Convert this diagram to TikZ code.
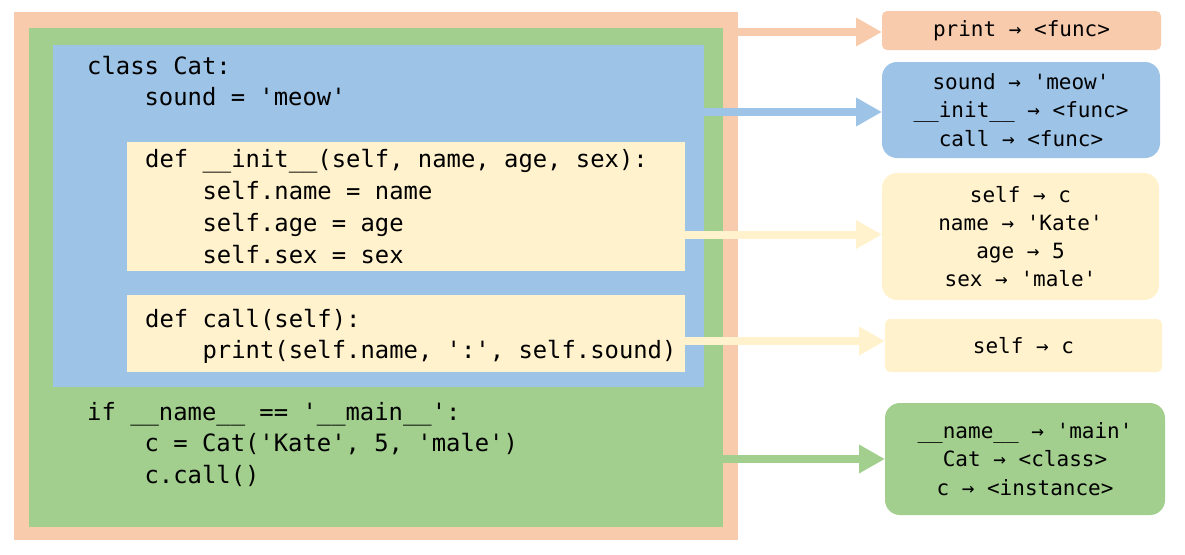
\documentclass[tikz,border=0pt]{standalone}
\usepackage{fontspec}
\setmonofont{DejaVu Sans Mono}
\usetikzlibrary{arrows.meta}

\definecolor{peach}{HTML}{F8CBAD}
\definecolor{leaf}{HTML}{A2CF8E}
\definecolor{sky}{HTML}{9DC3E6}
\definecolor{cream}{HTML}{FFF2CC}

\newcommand{\codesize}{\ttfamily\frenchspacing\fontsize{23.85pt}{31.7pt}\selectfont}
\newcommand{\envsize}{\ttfamily\frenchspacing\fontsize{21pt}{28.2pt}\selectfont}
\newcommand{\ind}{\hphantom{0000}}

\begin{document}
\begin{tikzpicture}[x=1pt,y=-1pt,
        box/.style={inner sep=0pt,outer sep=0pt,anchor=north west},
        code/.style={inner sep=0pt,anchor=base west,align=left,font=\codesize},
        env/.style={box,rounded corners=15pt,align=center,font=\envsize},
        link/.style={line width=8pt,-{Triangle[length=26pt,width=27pt]}}]
    \useasboundingbox (0,0) rectangle (1185,554);

    % nested scopes
    \node[box,fill=peach,minimum width=724pt,minimum height=528pt] (global) at (14,12) {};
    \node[box,fill=leaf,minimum width=694pt,minimum height=499pt] (main) at (29,28) {};
    \node[box,fill=sky,minimum width=651pt,minimum height=342pt] (klass) at (53,45) {};
    \node[box,fill=cream,minimum width=558pt,minimum height=129pt] (init) at (127,142) {};
    \node[box,fill=cream,minimum width=558pt,minimum height=77pt] (call) at (127,295) {};

    % anchors sit on the last line
    \node[code] (clscode) at (87,105.7) {class Cat:\\\ind sound = 'meow'};
    \node[code] (initcode) at (145,263) {def \_\_init\_\_(self, name, age, sex):\\\ind self.name = name\\\ind self.age = age\\\ind self.sex = sex};
    \node[code] (callcode) at (145,358.7) {def call(self):\\\ind print(self.name, ':', self.sound)};
    \node[code] (maincode) at (87,483.4) {if \_\_name\_\_ == '\_\_main\_\_':\\\ind c = Cat('Kate', 5, 'male')\\\ind c.call()};

    % namespaces
    \node[env,fill=peach,rounded corners=5pt,minimum width=279pt,minimum height=39pt] (builtins) at (882,11) {print → <func>};
    \node[env,fill=sky,minimum width=278pt,minimum height=96pt] (clsenv) at (882,62) {sound → 'meow'\\\_\_init\_\_ → <func>\\call → <func>};
    \node[env,fill=cream,minimum width=277pt,minimum height=127pt] (initenv) at (882,173) {self → c\\name → 'Kate'\\age → 5\\sex → 'male'};
    \node[env,fill=cream,rounded corners=5pt,minimum width=277pt,minimum height=53pt] (callenv) at (885,319) {self → c};
    \node[env,fill=leaf,minimum width=280pt,minimum height=112pt] (mainenv) at (885,403) {\_\_name\_\_ → 'main'\\Cat → <class>\\c → <instance>};

    \coordinate (tobuiltins) at ([yshift=-1.5pt]builtins.west);
    \coordinate (toclsenv) at ([yshift=-2pt]clsenv.west);
    \coordinate (toinitenv) at ([yshift=2pt]initenv.west);
    \coordinate (tocallenv) at ([yshift=4.5pt]callenv.west);

    \draw[link,peach] (global.east |- tobuiltins) -- (tobuiltins);
    \draw[link,sky] (klass.east |- toclsenv) -- (toclsenv);
    \draw[link,cream] (init.east |- toinitenv) -- (toinitenv);
    \draw[link,cream] (call.east |- tocallenv) -- (tocallenv);
    \draw[link,leaf] (main.east |- mainenv.west) -- (mainenv.west);
\end{tikzpicture}
\end{document}
